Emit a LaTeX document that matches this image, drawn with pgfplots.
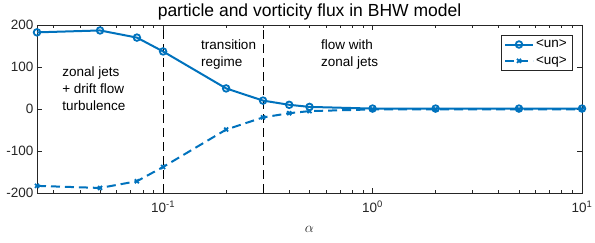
\documentclass[border=0pt]{standalone}
\usepackage{fontspec}
\setmainfont{Liberation Sans}
\usepackage{pgfplots}
\pgfplotsset{compat=1.18}
\definecolor{mblue}{rgb}{0,0.447,0.741}
\definecolor{axgray}{rgb}{0.15,0.15,0.15}
\begin{document}
\begin{tikzpicture}
\begin{axis}[
  xmode=log, scale only axis, width=545bp, height=168bp,
  xmin=0.025, xmax=10, ymin=-200, ymax=200,
  xtick={0.1,1,10},
  xticklabels={10\textsuperscript{-1},10\textsuperscript{0},10\textsuperscript{1}},
  minor xtick={0.03,0.04,0.05,0.06,0.07,0.08,0.09,0.2,0.3,0.4,0.5,0.6,0.7,0.8,0.9,2,3,4,5,6,7,8,9},
  ytick={-200,-100,0,100,200},
  yticklabels={-200,-100,0,100,200},
  tick align=inside,
  axis line style={axgray, line width=0.5bp},
  every tick/.style={axgray, line width=0.5bp},
  major tick length=5bp, minor tick length=3bp,
  tick label style={font=\fontsize{13.5bp}{15bp}\selectfont, text=axgray},
  xticklabel style={yshift=-4bp},
  title={particle and vorticity flux in BHW model},
  title style={font=\fontsize{17.5bp}{19bp}\selectfont, text=black, yshift=-4.5bp},
  xlabel={$\alpha$},
  xlabel style={font=\fontsize{14bp}{16bp}\selectfont, text=axgray, yshift=-7bp},
  clip=false,
  legend style={at={(rel axis cs:0.9817,0.94)}, anchor=north east,
    font=\fontsize{13.5bp}{15bp}\selectfont, draw=axgray, line width=0.5bp,
    row sep=3bp, inner xsep=3bp, inner ysep=2.5bp},
  legend cell align=left,
  legend image code/.code={\draw[mark repeat=2,mark phase=2,#1] plot coordinates {(0bp,0bp)(14bp,0bp)(28bp,0bp)};},
]
\addplot[black, line width=0.5bp, dash pattern=on 9bp off 5bp, forget plot] coordinates {(0.1,-200)(0.1,200)};
\addplot[black, line width=0.5bp, dash pattern=on 9bp off 5bp, forget plot] coordinates {(0.3,-200)(0.3,200)};
\addplot[mblue, line width=2bp, mark=o, mark size=3.3bp, mark options={solid, line width=1.8bp}] coordinates {
(0.025,182.5)(0.05,187)(0.075,170)(0.1,137)(0.2,49)(0.3,20)(0.4,10)(0.5,5)(1,1)(2,1)(5,1)(10,1)};
\addlegendentry{<un>}
\addplot[mblue, line width=2bp, dash pattern=on 9bp off 5bp, mark=x, mark size=2.8bp, mark options={solid, line width=1.8bp}] coordinates {
(0.025,-183)(0.05,-188)(0.075,-172)(0.1,-138)(0.2,-49)(0.3,-20)(0.4,-10)(0.5,-5)(1,-1)(2,-1)(5,-1)(10,-1)};
\addlegendentry{<uq>}
\node[anchor=north west, align=left, inner sep=0pt, font=\fontsize{13.5bp}{17bp}\selectfont] at (rel axis cs:0.046,0.755) {zonal jets\\+ drift flow\\turbulence};
\node[anchor=north west, align=left, inner sep=0pt, font=\fontsize{13.5bp}{17bp}\selectfont] at (rel axis cs:0.301,0.915) {transition\\regime};
\node[anchor=north west, align=left, inner sep=0pt, font=\fontsize{13.5bp}{17bp}\selectfont] at (rel axis cs:0.521,0.915) {flow with\\zonal jets};
\coordinate (bl) at (rel axis cs:0,0);
\end{axis}
\pgfresetboundingbox
\useasboundingbox ([shift={(-37bp,-50bp)}]bl) rectangle ([shift={(558bp,193bp)}]bl);
\end{tikzpicture}
\end{document}
